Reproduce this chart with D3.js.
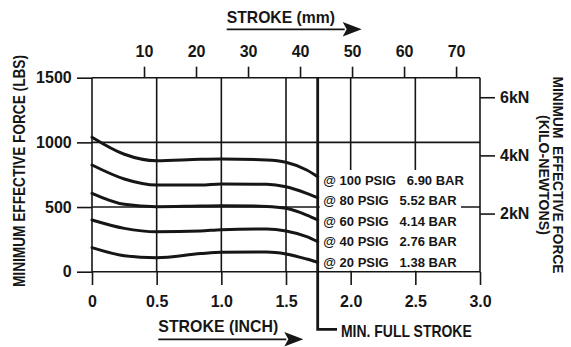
<!DOCTYPE html>
<html>
<head>
<meta charset="utf-8">
<script src="https://cdn.jsdelivr.net/npm/d3@7"></script>
<style>
  html, body { margin: 0; padding: 0; background: #fff; }
  svg { display: block; }
  text { fill: #161616; font-family: "Liberation Sans", Arial, sans-serif; font-weight: bold; }
</style>
</head>
<body>
<svg id="chart" width="571" height="347"></svg>
<script>
// ---- data ----
const strokeTicksInch = [0, 0.5, 1.0, 1.5, 2.0, 2.5, 3.0];
const strokeTicksMm = [10, 20, 30, 40, 50, 60, 70];
const forceTicksLbs = [0, 500, 1000, 1500];
const forceTicksKN = [2, 4, 6];
const minFullStroke = 1.745;                       // inch
const strokeInch = [0, 0.25, 0.5, 0.84, 1.0, 1.35, 1.5, 1.66, 1.745];
const force100psig = [1040, 908, 858, 869, 871, 864, 846, 786, 735];
const force80psig  = [825, 717, 670, 670, 678, 676, 657, 606, 572];
const force60psig  = [606, 521, 503, 508, 510, 505, 490, 438, 400];
const force40psig  = [400, 335, 309, 315, 325, 330, 315, 271, 232];
const force20psig  = [186, 124, 108, 140, 150, 152, 137, 98, 73];
const pressureLabels = [
  "@ 100 PSIG   6.90 BAR",
  "@ 80 PSIG   5.52 BAR",
  "@ 60 PSIG   4.14 BAR",
  "@ 40 PSIG   2.76 BAR",
  "@ 20 PSIG   1.38 BAR"
];
const series = [force100psig, force80psig, force60psig, force40psig, force20psig];

// ---- layout ----
const plot = { left: 92, right: 480, top: 77.7, bottom: 271.7 };
const ink = "#161616";
const LBF_TO_KN = 4.44822 / 1000;
const MM_SPAN = 74.6;                             // millimetre extent of the top scale

const svg = d3.select("#chart");

const x = d3.scaleLinear().domain([0, 3]).range([plot.left, plot.right]);
const xMm = d3.scaleLinear().domain([0, MM_SPAN]).range([plot.left, plot.right]);
const y = d3.scaleLinear().domain([0, 1500]).range([plot.bottom, plot.top]);
const yKN = d3.scaleLinear().domain([0, 1500 * LBF_TO_KN]).range([plot.bottom, plot.top]);

// ---- grid ----
const grid = svg.append("g").attr("stroke", ink).attr("stroke-width", 1.6);
grid.selectAll("line.h").data(forceTicksLbs).join("line")
  .attr("x1", plot.left).attr("x2", plot.right)
  .attr("y1", d => y(d)).attr("y2", d => y(d));
grid.selectAll("line.v").data(strokeTicksInch).join("line")
  .attr("x1", d => x(d)).attr("x2", d => x(d))
  .attr("y1", plot.top).attr("y2", plot.bottom);

// blank panel behind the pressure legend
svg.append("rect")
  .attr("x", x(minFullStroke) + 2).attr("y", 170)
  .attr("width", 461 - x(minFullStroke) - 2).attr("height", plot.bottom - 170 - 1)
  .attr("fill", "#fff");

// ---- axes ----
function styleAxis(g, size) {
  g.select(".domain").remove();
  g.selectAll(".tick line").attr("stroke", ink).attr("stroke-width", 1.6);
  g.selectAll(".tick text").attr("fill", ink)
    .style("font-family", "'Liberation Sans', Arial, sans-serif")
    .style("font-weight", "bold").style("font-size", size + "px");
}

svg.append("g").attr("transform", `translate(0,${plot.bottom})`)
  .call(d3.axisBottom(x).tickValues(strokeTicksInch).tickSize(13.3).tickPadding(10.9)
    .tickFormat(d => d === 0 ? "0" : d3.format(".1f")(d)))
  .call(g => styleAxis(g, 16));

svg.append("g").attr("transform", `translate(0,${plot.top})`)
  .call(d3.axisTop(xMm).tickValues(strokeTicksMm).tickSize(11).tickPadding(9.4)
    .tickFormat(d3.format("d")))
  .call(g => styleAxis(g, 16));

svg.append("g").attr("transform", `translate(${plot.left},0)`)
  .call(d3.axisLeft(y).tickValues(forceTicksLbs).tickSize(15).tickPadding(5.3)
    .tickFormat(d3.format("d")))
  .call(g => styleAxis(g, 16));

svg.append("g").attr("transform", `translate(${plot.right},0)`)
  .call(d3.axisRight(yKN).tickValues(forceTicksKN).tickSize(15).tickPadding(5)
    .tickFormat(d => d + "kN"))
  .call(g => styleAxis(g, 16));

// ---- force curves ----
const line = d3.line()
  .x(d => x(d[0])).y(d => y(d[1]))
  .curve(d3.curveMonotoneX);

svg.append("g").selectAll("path").data(series).join("path")
  .attr("d", vals => line(strokeInch.map((s, i) => [s, vals[i]])))
  .attr("fill", "none").attr("stroke", ink).attr("stroke-width", 3)
  .attr("stroke-linecap", "round");

// minimum full stroke marker
svg.append("path")
  .attr("d", `M${x(minFullStroke)},${plot.top}V329.3H337`)
  .attr("fill", "none").attr("stroke", ink).attr("stroke-width", 2.8);

svg.append("text").attr("x", 341).attr("y", 337.3)
  .attr("textLength", 130.7).attr("lengthAdjust", "spacingAndGlyphs")
  .style("font-size", "17px").text("MIN. FULL STROKE");

// ---- pressure legend ----
svg.append("g").selectAll("text").data(pressureLabels).join("text")
  .attr("x", 323.3).attr("y", (d, i) => 185 + i * 20.4)
  .style("font-size", "13px").style("white-space", "pre")
  .text(d => d);

// ---- axis titles ----
svg.append("text").attr("transform", "translate(25,171) rotate(-90)")
  .attr("text-anchor", "middle")
  .attr("textLength", 232).attr("lengthAdjust", "spacingAndGlyphs")
  .style("font-size", "16px").text("MINIMUM EFFECTIVE FORCE (LBS)");

svg.append("text").attr("transform", "translate(553.3,175) rotate(90)")
  .attr("text-anchor", "middle")
  .attr("textLength", 197).attr("lengthAdjust", "spacingAndGlyphs")
  .style("font-size", "15px").style("white-space", "pre").text("MINIMUM  EFFECTIVE FORCE");

svg.append("text").attr("transform", "translate(539,175) rotate(90)")
  .attr("text-anchor", "middle")
  .attr("textLength", 120).attr("lengthAdjust", "spacingAndGlyphs")
  .style("font-size", "15px").text("(KILO-NEWTONS)");

function titleWithArrow(label, x0, baseline, width, lineY, tipX) {
  svg.append("text").attr("x", x0).attr("y", baseline)
    .attr("textLength", width).attr("lengthAdjust", "spacingAndGlyphs")
    .style("font-size", "17px").text(label);
  const baseX = tipX - 19;
  svg.append("line").attr("x1", x0).attr("x2", baseX + 2)
    .attr("y1", lineY).attr("y2", lineY)
    .attr("stroke", ink).attr("stroke-width", 1.8);
  svg.append("path")
    .attr("d", `M${tipX},${lineY}L${baseX},${lineY - 7.3}L${baseX + 4},${lineY}L${baseX},${lineY + 7.3}Z`)
    .attr("fill", ink);
}
titleWithArrow("STROKE (mm)", 226.7, 22.7, 108.3, 29.3, 361.7);
titleWithArrow("STROKE (INCH)", 158.3, 331.5, 120, 339.3, 303.3);
</script>
</body>
</html>
